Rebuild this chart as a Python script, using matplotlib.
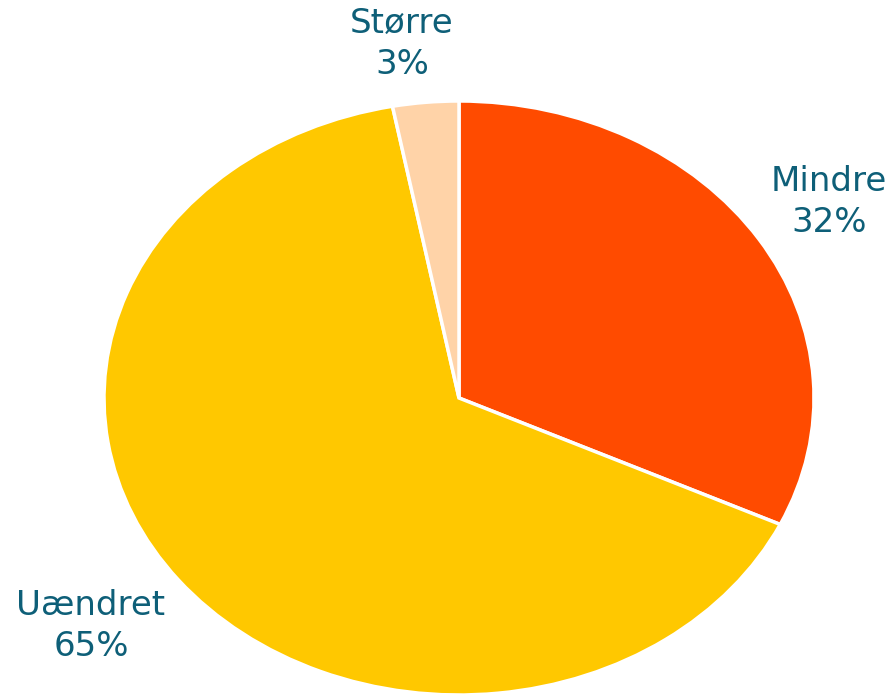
import matplotlib
matplotlib.use("Agg")
import matplotlib.pyplot as plt

categories = ["Mindre", "Uændret", "Større"]
values = [32, 65, 3]
colors = ["#FF4B00", "#FFC800", "#FFD3A8"]
label_pos = [(829, 202), (91, 626), (402, 44)]  # figure pixel centers
text_color = "#0E5F78"

W, H = 890, 694
fig = plt.figure(figsize=(W / 100, H / 100), dpi=100)
cx, cy, rx, ry = 459, 398, 355, 297
ax = fig.add_axes([(cx - rx) / W, (H - cy - ry) / H, 2 * rx / W, 2 * ry / H])
ax.pie(values, colors=colors, startangle=90, counterclock=False,
       wedgeprops=dict(edgecolor="white", linewidth=2.5))
ax.set_aspect("auto")
ax.set_xlim(-1, 1)
ax.set_ylim(-1, 1)
ax.axis("off")

for cat, v, (px, py) in zip(categories, values, label_pos):
    fig.text(px / W, 1 - py / H, f"{cat}\n{v}%", ha="center", va="center",
             fontsize=24.5, color=text_color, family="DejaVu Sans",
             linespacing=1.32)

fig.savefig("out.png", dpi=100)
